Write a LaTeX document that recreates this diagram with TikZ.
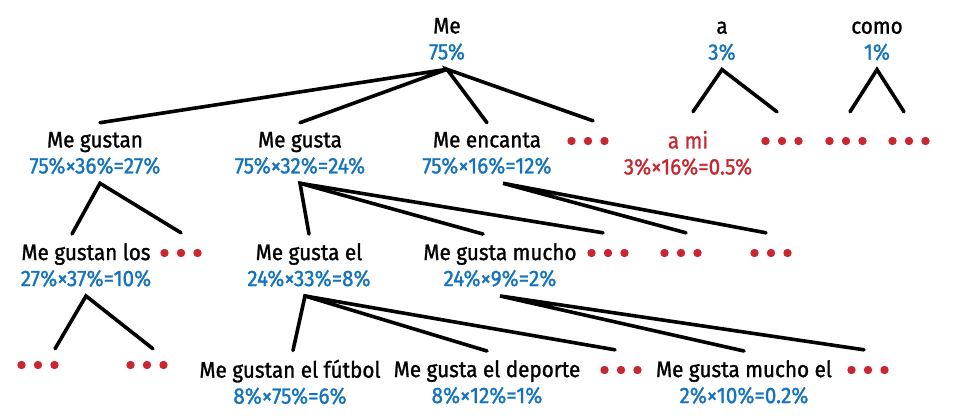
\documentclass[tikz,border=0pt]{standalone}
\usepackage{fontspec}
\setmainfont{Fira Sans}[FakeStretch=0.92,FakeBold=1.2]
\usepackage{tikz}
\usepackage{xcolor}
\definecolor{pctblue}{RGB}{20,115,190}
\definecolor{dotred}{RGB}{200,38,48}
\newcommand\pctline[1]{\textcolor{pctblue}{#1}}

\begin{document}
\begin{tikzpicture}[x=1pt,y=-1pt,
		word/.style={align=center,inner xsep=2pt,inner ysep=9pt,font=\fontsize{22.5}{26}\selectfont},
		reddots/.style={minimum width=44pt,minimum height=40pt,inner sep=0pt,
			path picture={\foreach \i in {-1,0,1}
				\fill[dotred]([xshift=\i*16.5pt]path picture bounding box.center) circle (4.2pt);}},
		branch/.style={black,line width=3.6pt,line cap=round}]
			\useasboundingbox (0,0) rectangle (954,419);

			\node[word] (me) at (447,39) {Me\\\pctline{75\%}};
			\node[word] (a) at (722,41) {a\\\pctline{3\%}};
			\node[word] (como) at (877,41) {como\\\pctline{1\%}};

			\node[word] (gustan) at (95,153) {Me gustan\\\pctline{75\%×36\%=27\%}};
			\node[word] (gusta) at (300,153) {Me gusta\\\pctline{75\%×32\%=24\%}};
			\node[word] (encanta) at (487,153) {Me encanta\\\pctline{75\%×16\%=12\%}};
			\node[word] (ami) at (688,153) {\textcolor{dotred}{a mi}\\\textcolor{dotred}{3\%×16\%=0.5\%}};
			\node[reddots] (d1) at (588,141) {};
			\node[reddots] (d2) at (782,141) {};
			\node[reddots] (d3) at (846,141) {};
			\node[reddots] (d4) at (909,141) {};

			\node[word] (gustanlos) at (86,265) {Me gustan los\\\pctline{27\%×37\%=10\%}};
			\node[word] (gustael) at (309,265) {Me gusta el\\\pctline{24\%×33\%=8\%}};
			\node[word] (gustamucho) at (500,265) {Me gusta mucho\\\pctline{24\%×9\%=2\%}};
			\node[reddots] (d5) at (181,253) {};
			\node[reddots] (d6) at (608,253) {};
			\node[reddots] (d7) at (681,253) {};
			\node[reddots] (d8) at (771,253) {};

			\node[word] (futbol) at (290,382) {Me gustan el fútbol\\\pctline{8\%×75\%=6\%}};
			\node[word] (deporte) at (487,382) {Me gusta el deporte\\\pctline{8\%×12\%=1\%}};
			\node[word] (muchoel) at (744,382) {Me gusta mucho el\\\pctline{2\%×10\%=0.2\%}};
			\node[reddots] (d9) at (38,365) {};
			\node[reddots] (d10) at (147,365) {};
			\node[reddots] (d11) at (621,370) {};
			\node[reddots] (d12) at (868,370) {};

			\draw[branch] ([xshift=5pt]gustan.north) -- (me.south) -- (gusta.north);
			\draw[branch] (encanta.north) -- (me.south) -- ([xshift=5pt]d1.north);

			\draw[branch] ([xshift=5pt,yshift=10pt]ami.north) -- (a.south) -- ([xshift=-5pt,yshift=9pt]d2.north);
			\draw[branch] ([xshift=4pt,yshift=9pt]d3.north) -- (como.south) -- ([xshift=-5pt,yshift=9pt]d4.north);

			\draw[branch] ([xshift=-14pt]gustanlos.north) -- ([xshift=5pt]gustan.south) -- (d5.north);
			\draw[branch] (gustael.north) -- (gusta.south) -- ([xshift=-17pt]gustamucho.north);
			\draw[branch] (gusta.south) -- ([xshift=-5pt]d6.north);
			\draw[branch] ([xshift=5pt]d7.north) -- ([xshift=16pt]encanta.south) -- ([xshift=-5pt]d8.north);

			\draw[branch] ([xshift=17pt,yshift=-4pt]d9.north) -- (gustanlos.south) -- ([xshift=6pt,yshift=-4pt]d10.north);
			\draw[branch] ([xshift=3pt]futbol.north) -- ([xshift=-4pt]gustael.south) -- (deporte.north);
			\draw[branch] ([xshift=-4pt]gustael.south) -- ([xshift=-6pt]d11.north);
			\draw[branch] (muchoel.north) -- (gustamucho.south) -- ([xshift=-4pt]d12.north);
\end{tikzpicture}
\end{document}
